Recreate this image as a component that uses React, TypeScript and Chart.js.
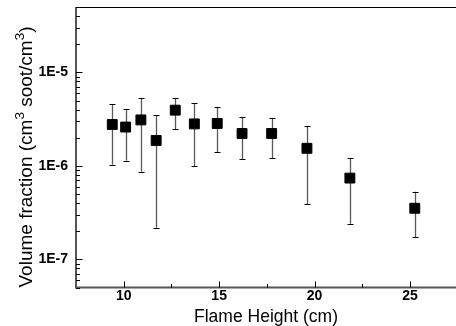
import { useEffect, useRef } from 'react';
import { Chart, registerables } from 'chart.js';

Chart.register(...registerables);

// ---- data ----
const flameHeight = [9.4, 10.1, 10.9, 11.7, 12.7, 13.7, 14.9, 16.2, 17.75, 19.6, 21.85, 25.25];
const volumeFraction = [2.77e-6, 2.6e-6, 3.1e-6, 1.87e-6, 3.94e-6, 2.81e-6, 2.84e-6, 2.22e-6, 2.22e-6, 1.54e-6, 7.4e-7, 3.52e-7];
const errorUpper = [4.54e-6, 4.04e-6, 5.33e-6, 3.48e-6, 5.26e-6, 4.65e-6, 4.28e-6, 3.3e-6, 3.21e-6, 2.68e-6, 1.22e-6, 5.28e-7];
const errorLower = [1.03e-6, 1.14e-6, 8.65e-7, 2.18e-7, 2.45e-6, 9.95e-7, 1.4e-6, 1.17e-6, 1.2e-6, 3.88e-7, 2.4e-7, 1.73e-7];

const xTickValues = [10, 15, 20, 25];
const xMinorTicks = [12.5, 17.5, 22.5];
const yTickValues = [1e-7, 1e-6, 1e-5];
const yTickLabels = ['1E-7', '1E-6', '1E-5'];
const yDecades = [1e-8, 1e-7, 1e-6, 1e-5];
const yMinorMultipliers = [2, 3, 4, 5, 6, 7, 8, 9];

const xTitle = 'Flame Height (cm)';
const yTitleParts: { t: string; sup: boolean }[] = [
  { t: 'Volume fraction (cm', sup: false },
  { t: '3', sup: true },
  { t: ' soot/cm', sup: false },
  { t: '3', sup: true },
  { t: ')', sup: false },
];

const FONT = '"Liberation Sans", Arial, sans-serif';

const decor = {
  id: 'decor',
  beforeDatasetsDraw(chart: any) {
    const { ctx } = chart;
    const xs = chart.scales.x;
    const ys = chart.scales.y;
    ctx.save();
    flameHeight.forEach((h, i) => {
      const px = Math.round(xs.getPixelForValue(h)) + 0.5;
      const pt = ys.getPixelForValue(errorUpper[i]);
      const pb = ys.getPixelForValue(errorLower[i]);
      ctx.strokeStyle = '#5a5a5a';
      ctx.lineWidth = 1.3;
      ctx.beginPath();
      ctx.moveTo(px, pt);
      ctx.lineTo(px, pb);
      ctx.stroke();
      ctx.strokeStyle = '#000';
      ctx.lineWidth = 1;
      ctx.beginPath();
      ctx.moveTo(px - 3, Math.round(pt) + 0.5);
      ctx.lineTo(px + 3, Math.round(pt) + 0.5);
      ctx.moveTo(px - 3, Math.round(pb) + 0.5);
      ctx.lineTo(px + 3, Math.round(pb) + 0.5);
      ctx.stroke();
    });
    ctx.restore();
  },
  afterDraw(chart: any) {
    const { ctx, chartArea: a } = chart;
    const xs = chart.scales.x;
    const ys = chart.scales.y;
    ctx.save();
    // top border
    ctx.strokeStyle = '#000';
    ctx.lineWidth = 1;
    ctx.beginPath();
    ctx.moveTo(a.left, a.top + 0.5);
    ctx.lineTo(a.right, a.top + 0.5);
    ctx.stroke();
    // left & bottom axes
    ctx.strokeStyle = '#555';
    ctx.lineWidth = 2;
    ctx.beginPath();
    ctx.moveTo(a.left, a.top);
    ctx.lineTo(a.left, a.bottom);
    ctx.lineTo(a.right, a.bottom);
    ctx.stroke();
    // ticks (inward)
    ctx.strokeStyle = '#000';
    ctx.lineWidth = 1;
    ctx.beginPath();
    yDecades.forEach((d) => {
      yMinorMultipliers.forEach((m) => {
        const v = d * m;
        if (v < ys.min || v > ys.max) return;
        const py = Math.round(ys.getPixelForValue(v)) + 0.5;
        ctx.moveTo(a.left, py);
        ctx.lineTo(a.left + 4, py);
      });
    });
    yTickValues.forEach((v) => {
      const py = Math.round(ys.getPixelForValue(v)) + 0.5;
      ctx.moveTo(a.left, py);
      ctx.lineTo(a.left + 6.5, py);
    });
    xMinorTicks.forEach((v) => {
      const px = Math.round(xs.getPixelForValue(v)) + 0.5;
      ctx.moveTo(px, a.bottom);
      ctx.lineTo(px, a.bottom - 3.5);
    });
    xTickValues.forEach((v) => {
      const px = Math.round(xs.getPixelForValue(v)) + 0.5;
      ctx.moveTo(px, a.bottom);
      ctx.lineTo(px, a.bottom - 6);
    });
    ctx.stroke();

    // x title
    ctx.fillStyle = '#000';
    ctx.font = `17.5px ${FONT}`;
    ctx.textAlign = 'center';
    ctx.textBaseline = 'alphabetic';
    ctx.fillText(xTitle, (a.left + a.right) / 2, 322);

    // y title with superscripts
    const mainFont = `19px ${FONT}`;
    const supFont = `13.5px ${FONT}`;
    let total = 0;
    yTitleParts.forEach((p) => {
      ctx.font = p.sup ? supFont : mainFont;
      total += ctx.measureText(p.t).width;
    });
    ctx.translate(32, 157);
    ctx.rotate(-Math.PI / 2);
    ctx.textAlign = 'left';
    let cx = -total / 2;
    yTitleParts.forEach((p) => {
      ctx.font = p.sup ? supFont : mainFont;
      ctx.fillText(p.t, cx, p.sup ? -8.5 : 0);
      cx += ctx.measureText(p.t).width;
    });
    ctx.restore();
  },
};

const noPad = (s: any) => {
  s.paddingTop = 0;
  s.paddingBottom = 0;
  s.paddingLeft = 0;
  s.paddingRight = 0;
};

export default function App() {
  const ref = useRef<HTMLCanvasElement | null>(null);
  useEffect(() => {
    if (!ref.current) return;
    const chart = new Chart(ref.current, {
      type: 'scatter',
      data: {
        datasets: [
          {
            data: flameHeight.map((h, i) => ({ x: h, y: volumeFraction[i] })),
            pointStyle: 'rect',
            pointRadius: 7,
            pointBackgroundColor: '#000',
            pointBorderColor: '#000',
            pointBorderWidth: 1,
            showLine: false,
          },
        ],
      },
      options: {
        animation: false,
        responsive: false,
        devicePixelRatio: 1,
        layout: { autoPadding: false, padding: { top: 7, right: 0, left: 0, bottom: 0 } },
        plugins: { legend: { display: false }, tooltip: { enabled: false } },
        scales: {
          x: {
            type: 'linear',
            min: 7.5,
            max: 27.41,
            grid: { display: false, drawTicks: false },
            border: { display: false },
            afterBuildTicks: (s: any) => {
              s.ticks = xTickValues.map((v) => ({ value: v }));
            },
            afterFit: (s: any) => {
              s.height = 38.5;
              noPad(s);
            },
            ticks: {
              autoSkip: false,
              maxRotation: 0,
              padding: 0,
              color: '#000',
              font: { family: FONT, size: 14, weight: 'bold' },
              callback: (v: any) => String(v),
            },
          },
          y: {
            type: 'logarithmic',
            min: 5e-8,
            max: 5e-5,
            grid: { display: false, drawTicks: false },
            border: { display: false },
            afterBuildTicks: (s: any) => {
              s.ticks = yTickValues.map((v) => ({ value: v }));
            },
            afterFit: (s: any) => {
              s.width = 76;
              noPad(s);
            },
            ticks: {
              autoSkip: false,
              padding: 8,
              color: '#000',
              font: { family: FONT, size: 14, weight: 'bold' },
              callback: (v: any) => {
                const idx = yTickValues.findIndex((t) => Math.abs(Math.log10(t) - Math.log10(v)) < 1e-6);
                return idx >= 0 ? yTickLabels[idx] : '';
              },
            },
          },
        },
      },
      plugins: [decor],
    } as any);
    return () => chart.destroy();
  }, []);
  return (
    <div style={{ position: 'fixed', left: 0, top: 0, width: 456, height: 326, background: '#fff' }}>
      <canvas ref={ref} width={456} height={326} style={{ width: 456, height: 326, display: 'block' }} />
    </div>
  );
}
